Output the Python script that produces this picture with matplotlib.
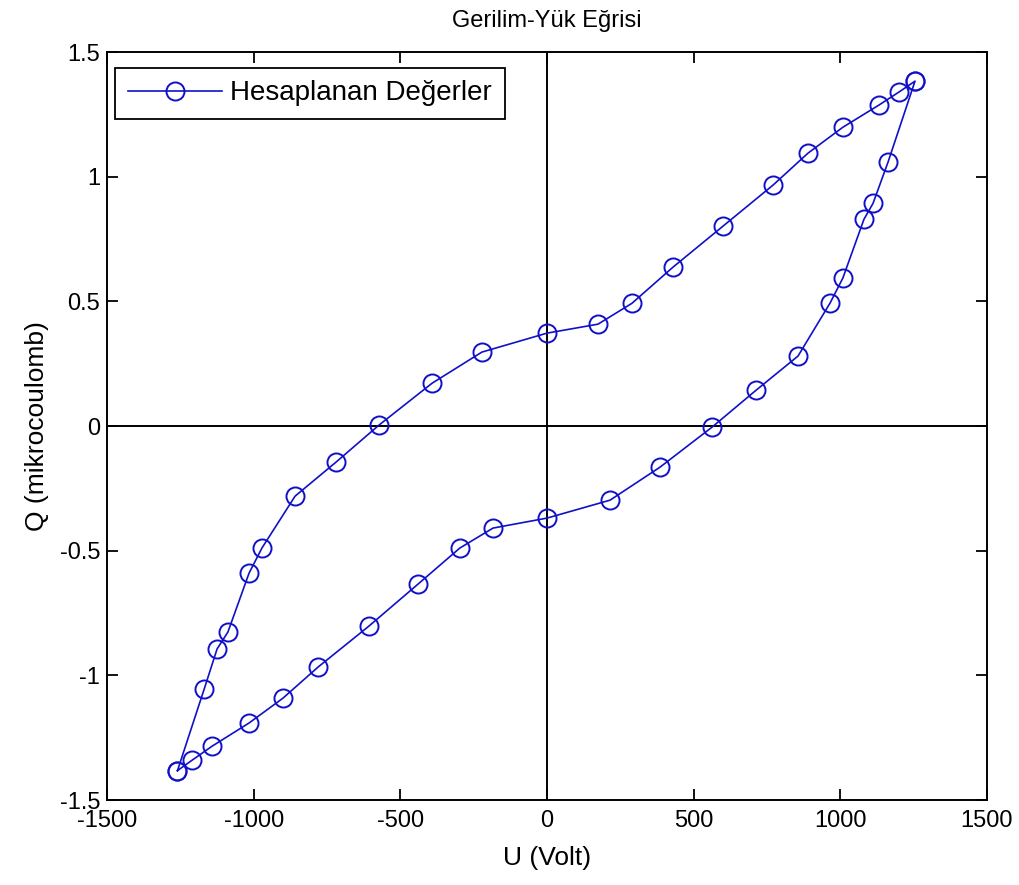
import numpy as np
import matplotlib
matplotlib.use('Agg')
import matplotlib.pyplot as plt

plt.rcParams['font.family'] = ['Liberation Sans', 'DejaVu Sans']
plt.rcParams['axes.unicode_minus'] = False

# Q-U loop
# left steep branch + upper branch (bottom-left tip -> top-right tip)
u_up = [-1260, -1169, -1125, -1088, -1016, -972, -859, -719, -573, -392, -222,
        0, 174, 290, 430, 600, 771, 890, 1009, 1132, 1200, 1255]
q_up = [-1.382, -1.055, -0.894, -0.826, -0.590, -0.489, -0.281, -0.144, 0.004,
        0.172, 0.297, 0.373, 0.409, 0.493, 0.638, 0.802, 0.967, 1.095, 1.199,
        1.288, 1.340, 1.384]
# right steep branch + lower branch (top-right tip -> bottom-left tip)
u_down = [1255, 1163, 1112, 1081, 1009, 965, 856, 713, 563, 385, 215,
          0, -184, -297, -440, -607, -781, -900, -1016, -1142, -1210, -1260]
q_down = [1.384, 1.059, 0.894, 0.830, 0.594, 0.493, 0.281, 0.144, -0.004,
          -0.165, -0.297, -0.369, -0.409, -0.489, -0.634, -0.802, -0.967,
          -1.091, -1.191, -1.284, -1.340, -1.382]

U = np.array(u_up + u_down)
Q = np.array(q_up + q_down)

fig = plt.figure(figsize=(10.2, 8.85), dpi=100)
ax = fig.add_axes([0.105, 0.096, 0.8625, 0.845])

ax.axhline(0, color='k', lw=1.4, zorder=1)
ax.axvline(0, color='k', lw=1.4, zorder=1)
ax.plot(U, Q, '-o', color='#1010c8', lw=1.2, ms=13, mfc='none', mew=1.4,
        label='Hesaplanan Değerler', zorder=3)

ax.set_xlim(-1500, 1500)
ax.set_ylim(-1.5, 1.5)
ax.set_xticks([-1500, -1000, -500, 0, 500, 1000, 1500])
ax.set_yticks([-1.5, -1, -0.5, 0, 0.5, 1, 1.5])
ax.set_yticklabels(['-1.5', '-1', '-0.5', '0', '0.5', '1', '1.5'])
ax.tick_params(direction='in', length=8, width=1.3, top=True, right=True,
               labelsize=17, pad=5)
ax.tick_params(axis='x', pad=7)
for s in ax.spines.values():
    s.set_linewidth(1.4)

ax.set_title('Gerilim-Yük Eğrisi', fontsize=17, pad=18)
ax.set_xlabel('U (Volt)', fontsize=19, labelpad=10)
ax.set_ylabel('Q (mikrocoulomb)', fontsize=19, labelpad=8)

leg = ax.legend(loc='upper left', fontsize=20, fancybox=False, framealpha=1,
                edgecolor='k', handlelength=3.4, handletextpad=0.3,
                borderpad=0.45, bbox_to_anchor=(0.009, 0.979),
                borderaxespad=0)
leg.get_frame().set_linewidth(1.3)

fig.savefig('out.png', dpi=100)
